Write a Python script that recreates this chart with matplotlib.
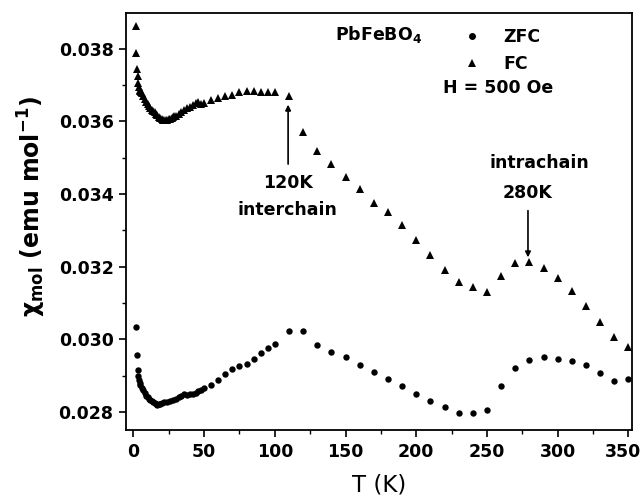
import matplotlib
matplotlib.use("Agg")
import matplotlib.pyplot as plt
from matplotlib.lines import Line2D
from matplotlib.transforms import ScaledTranslation

plt.rcParams['font.family'] = ['DejaVu Sans']
plt.rcParams['mathtext.default'] = 'regular'

# ZFC data
zfc_T = [1.8, 2.5, 3, 3.5, 4, 4.5, 5, 6, 7, 8, 9, 10, 11, 12, 13, 14, 15, 16, 17, 18,
         19, 20, 22, 24, 26, 28, 30, 32, 34, 36, 38, 40, 42, 44, 46, 48, 50,
         55, 60, 65, 70, 75, 80, 85, 90, 95, 100, 110, 120, 130, 140, 150, 160,
         170, 180, 190, 200, 210, 220, 230, 240, 250, 260, 270, 280, 290, 300,
         310, 320, 330, 340, 350]
zfc_chi = [0.03035, 0.02957, 0.02915, 0.02900, 0.02888, 0.02880, 0.02874, 0.02866,
           0.02860, 0.02852, 0.02845, 0.02840, 0.02836, 0.02832, 0.02829, 0.02826,
           0.02824, 0.02822, 0.02820, 0.02821, 0.02822, 0.02824, 0.02826, 0.02828,
           0.02831, 0.02834, 0.02836, 0.02840, 0.02845, 0.02849, 0.02846, 0.02848,
           0.02850, 0.02853, 0.02857, 0.02861, 0.02865,
           0.02873, 0.02888, 0.02905, 0.02918, 0.02925, 0.02932, 0.02947, 0.02963,
           0.02975, 0.02987, 0.03022, 0.03023, 0.02985, 0.02966, 0.02950, 0.02930,
           0.02910, 0.02890, 0.02870, 0.02850, 0.02829, 0.02814, 0.02796, 0.02796,
           0.02804, 0.02870, 0.02920, 0.02943, 0.02950, 0.02947, 0.02941, 0.02929,
           0.02906, 0.02886, 0.02890]

# FC data
fc_T = [1.8, 2.2, 2.8, 3.2, 3.6, 4, 4.5, 5, 5.5, 6, 7, 8, 9, 10, 11, 12, 13, 14, 15,
        16, 17, 18, 19, 20, 21, 22, 23, 24, 25, 26, 27, 28, 29, 30, 32, 34, 36, 38,
        40, 42, 44, 46, 48, 50, 55, 60, 65, 70, 75, 80, 85, 90, 95, 100, 110,
        120, 130, 140, 150, 160, 170, 180, 190, 200, 210, 220, 230, 240, 250,
        260, 270, 280, 290, 300, 310, 320, 330, 340, 350]
fc_chi = [0.03862, 0.03790, 0.03745, 0.03725, 0.03705, 0.03695, 0.03688, 0.03683,
          0.03680, 0.03678, 0.03670, 0.03662, 0.03655, 0.03648, 0.03642, 0.03637,
          0.03632, 0.03628, 0.03625, 0.03621, 0.03617, 0.03613, 0.03610, 0.03607,
          0.03605, 0.03604, 0.03604, 0.03605, 0.03606, 0.03608, 0.03610, 0.03612,
          0.03614, 0.03616, 0.03620, 0.03626, 0.03632, 0.03636, 0.03641, 0.03646,
          0.03652, 0.03655, 0.03649, 0.03652, 0.03659, 0.03666, 0.03669, 0.03673,
          0.03680, 0.03683, 0.03684, 0.03682, 0.03682, 0.03680, 0.03671,
          0.03571, 0.03520, 0.03482, 0.03448, 0.03414, 0.03376, 0.03350, 0.03316,
          0.03274, 0.03232, 0.03192, 0.03158, 0.03145, 0.03129, 0.03175, 0.03210,
          0.03214, 0.03196, 0.03168, 0.03134, 0.03092, 0.03048, 0.03005, 0.02980]

x_ticks = [0, 50, 100, 150, 200, 250, 300, 350]
y_ticks = [0.028, 0.030, 0.032, 0.034, 0.036, 0.038]
y_ticklabels = ['0.028', '0.030', '0.032', '0.034', '0.036', '0.038']

fig = plt.figure(figsize=(6.43, 4.98), dpi=100)
ax = fig.add_axes([0.196, 0.1365, 0.787, 0.8375])

ax.plot(zfc_T, zfc_chi, 'o', color='black', markersize=4.6, markeredgewidth=0)
ax.plot(fc_T, fc_chi, '^', color='black', markersize=5.8, markeredgewidth=0)

ax.set_xlim(-5.2, 352.6)
ax.set_ylim(0.0275, 0.03899)
ax.set_xticks(x_ticks)
ax.set_xticklabels([str(v) for v in x_ticks])
ax.set_xticks([25, 75, 125, 175, 225, 275, 325], minor=True)
ax.set_yticks(y_ticks)
ax.set_yticklabels(y_ticklabels)
ax.set_yticks([0.029, 0.031, 0.033, 0.035, 0.037], minor=True)
ax.tick_params(which='major', direction='out', length=5, width=1.2, labelsize=12.5, pad=4)
ax.tick_params(which='minor', direction='out', length=3, width=1.0)
for lab in ax.get_xticklabels() + ax.get_yticklabels():
    lab.set_fontweight('bold')
last = ax.get_xticklabels()[-1]
last.set_transform(last.get_transform() + ScaledTranslation(-5 / 100, 0, fig.dpi_scale_trans))
for s in ax.spines.values():
    s.set_linewidth(1.3)

ax.set_xlabel('T (K)', fontsize=16.5, labelpad=9)
ax.set_ylabel(r'$\chi_{mol}$ (emu mol$^{-1}$)', fontsize=17, fontweight='bold')
ax.yaxis.set_label_coords(-0.155, 0.535)

fs = 12.5
# legend and labels
ax.text(142.6, 0.03839, r'PbFeBO$_4$', fontsize=fs, fontweight='bold', va='center', ha='left')
handles = [Line2D([], [], marker='o', ls='none', color='black', markersize=5, markeredgewidth=0),
           Line2D([], [], marker='^', ls='none', color='black', markersize=6, markeredgewidth=0)]
ax.legend(handles, ['ZFC', 'FC'], loc='center left', frameon=False,
          bbox_to_anchor=(0.636, 0.91), prop={'weight': 'bold', 'size': fs},
          handletextpad=1.3, labelspacing=0.55, handlelength=1.0)
ax.text(219, 0.03693, 'H = 500 Oe', fontsize=fs, fontweight='bold', va='center', ha='left')

ax.text(109, 0.03431, '120K', fontsize=fs, fontweight='bold', ha='center', va='center')
ax.text(109, 0.03356, 'interchain', fontsize=fs, fontweight='bold', ha='center', va='center')
ax.annotate('', xy=(109.4, 0.03654), xytext=(109.4, 0.03475),
            arrowprops=dict(arrowstyle='-|>', color='black', lw=1.2, mutation_scale=8))

ax.text(287.3, 0.03486, 'intrachain', fontsize=fs, fontweight='bold', ha='center', va='center')
ax.text(278.5, 0.03403, '280K', fontsize=fs, fontweight='bold', ha='center', va='center')
ax.annotate('', xy=(279, 0.03218), xytext=(279, 0.03362),
            arrowprops=dict(arrowstyle='-|>', color='black', lw=1.2, mutation_scale=8))

fig.savefig('out.png', dpi=100)
